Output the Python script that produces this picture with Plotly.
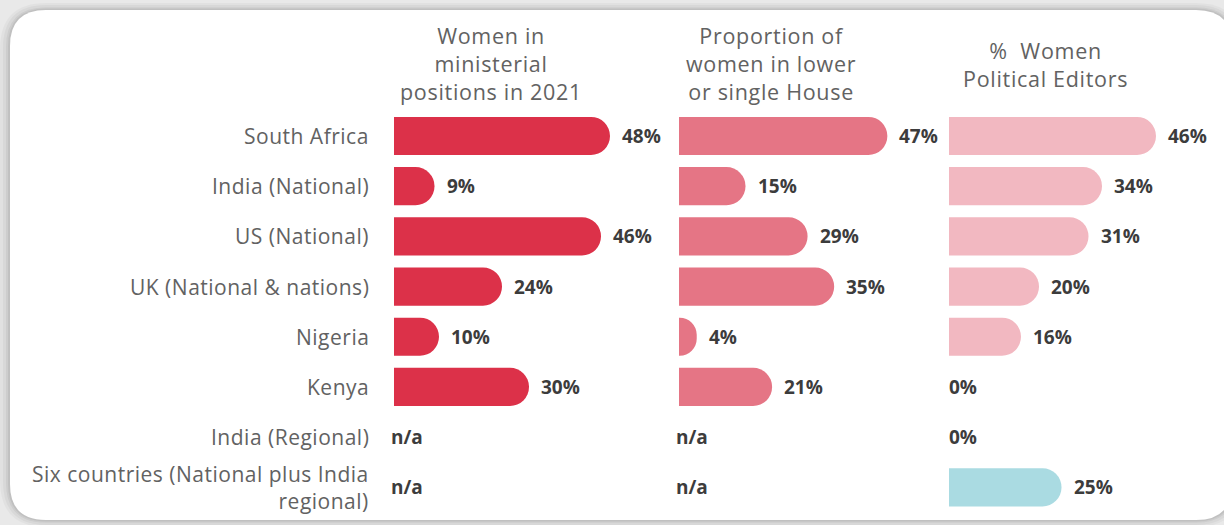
import plotly.graph_objects as go

# ---------------- data ----------------
categories = [
    "South Africa",
    "India (National)",
    "US (National)",
    "UK (National & nations)",
    "Nigeria",
    "Kenya",
    "India (Regional)",
    "Six countries (National plus India<br>regional)",
]
ministerial = [48, 9, 46, 24, 10, 30, None, None]
lower_house = [47, 15, 29, 35, 4, 21, None, None]
editors = [46, 34, 31, 20, 16, 0, 0, 25]

panel_titles = [
    "Women in<br>ministerial<br>positions in 2021",
    "Proportion of<br>women in lower<br>or single House",
    "%  Women<br>Political Editors",
]

# ---------------- layout helpers ----------------
W, H = 1224, 525


def fx(x):
    return x / W


def fy(y):
    return 1 - y / H


def rrect(x0, y0, x1, y1, r):
    pts = [
        ("M", [(x0 + r, y0)]),
        ("L", [(x1 - r, y0)]),
        ("Q", [(x1, y0), (x1, y0 + r)]),
        ("L", [(x1, y1 - r)]),
        ("Q", [(x1, y1), (x1 - r, y1)]),
        ("L", [(x0 + r, y1)]),
        ("Q", [(x0, y1), (x0, y1 - r)]),
        ("L", [(x0, y0 + r)]),
        ("Q", [(x0, y0), (x0 + r, y0)]),
    ]
    s = ""
    for cmd, ps in pts:
        s += cmd + " " + " ".join(f"{fx(a):.5f},{fy(b):.5f}" for a, b in ps) + " "
    return s + "Z"


def spaced(t, ls):
    return "<br>".join(
        f'<span style="letter-spacing:{ls}px">{ln}</span>' for ln in t.split("<br>")
    )


FONT = "Open Sans"
TXT = "#626262"
VAL = "#3c3c3c"

c1 = "#dc3149"
c2 = "#e57585"
c3 = "#f2b8c1"
c_all = "#aadbe2"

rows = list(range(len(categories)))
row_top, row_bot = 110.9, 512.4

fig = go.Figure()

bar_width = 0.76
fig.add_trace(go.Bar(
    x=ministerial, y=rows, orientation="h", xaxis="x", yaxis="y",
    marker=dict(color=c1, cornerradius=19, line=dict(width=0)),
    width=bar_width, hoverinfo="skip",
))
fig.add_trace(go.Bar(
    x=lower_house, y=rows, orientation="h", xaxis="x2", yaxis="y",
    marker=dict(color=c2, cornerradius=19, line=dict(width=0)),
    width=bar_width, hoverinfo="skip",
))
fig.add_trace(go.Bar(
    x=editors, y=rows, orientation="h", xaxis="x3", yaxis="y",
    marker=dict(color=[c3] * (len(editors) - 1) + [c_all], cornerradius=19,
                line=dict(width=0)),
    width=bar_width, hoverinfo="skip",
))

annotations = []
for series, xr in [(ministerial, "x"), (lower_house, "x2"), (editors, "x3")]:
    for i, v in enumerate(series):
        if v is None:
            txt, xv, sh = "n/a", 0, -5
        elif v == 0:
            txt, xv, sh = "0%", 0, -2
        else:
            txt, xv, sh = f"{v}%", v, 10
        annotations.append(dict(
            x=xv, y=i, xref=xr, yref="y", text=f"<b>{txt}</b>",
            showarrow=False, xanchor="left", yanchor="middle", xshift=sh,
            font=dict(family=FONT, size=19, color=VAL),
        ))

# category labels (right aligned)
for i, cat in enumerate(categories):
    annotations.append(dict(
        x=fx(371), y=i, xref="paper", yref="y", text=spaced(cat, 0.5),
        showarrow=False, xanchor="right", yanchor="middle", align="right",
        font=dict(family=FONT, size=21, color=TXT),
    ))

# panel titles
title_pos = [(491, 63.5), (771, 63.5), (1045, 64.5)]
for t, (cx, cy) in zip(panel_titles, title_pos):
    annotations.append(dict(
        x=fx(cx), y=fy(cy), xref="paper", yref="paper", text=spaced(t, 0.7),
        showarrow=False, xanchor="center", yanchor="middle", align="center",
        font=dict(family=FONT, size=21.5, color=TXT),
    ))

shapes = []
# soft shadow around card
for k, op in [(10, 0.03), (7, 0.04), (4, 0.05), (2, 0.06)]:
    shapes.append(dict(
        type="path", xref="paper", yref="paper", layer="below",
        path=rrect(10 - k, 10 - k * 0.7, 1232 + k, 520 + k * 0.7, 36 + k),
        fillcolor=f"rgba(0,0,0,{op})", line=dict(width=0),
    ))
shapes.append(dict(
    type="path", xref="paper", yref="paper", layer="below",
    path=rrect(10, 10, 1232, 520, 36),
    fillcolor="white", line=dict(width=0),
))

axis_common = dict(range=[0, 60], showgrid=False, zeroline=False,
                   showticklabels=False, showline=False, fixedrange=True)

fig.update_layout(
    width=W, height=H,
    margin=dict(l=0, r=0, t=0, b=0),
    paper_bgcolor="#e9e9e9",
    plot_bgcolor="rgba(0,0,0,0)",
    showlegend=False,
    barmode="overlay",
    xaxis=dict(domain=[fx(394), fx(664)], anchor="y", **axis_common),
    xaxis2=dict(domain=[fx(679), fx(945)], anchor="y", **axis_common),
    xaxis3=dict(domain=[fx(949), fx(1219)], anchor="y", **axis_common),
    yaxis=dict(
        domain=[fy(row_bot), fy(row_top)],
        range=[len(categories) - 0.5, -0.5],
        showticklabels=False, showgrid=False, zeroline=False, showline=False,
        automargin=False, anchor="x", fixedrange=True,
    ),
    annotations=annotations,
    shapes=shapes,
)

fig.write_html(
    "out.html",
    config={"displayModeBar": False},
    post_script="document.body.style.margin='0';document.body.style.overflow='hidden';",
)
